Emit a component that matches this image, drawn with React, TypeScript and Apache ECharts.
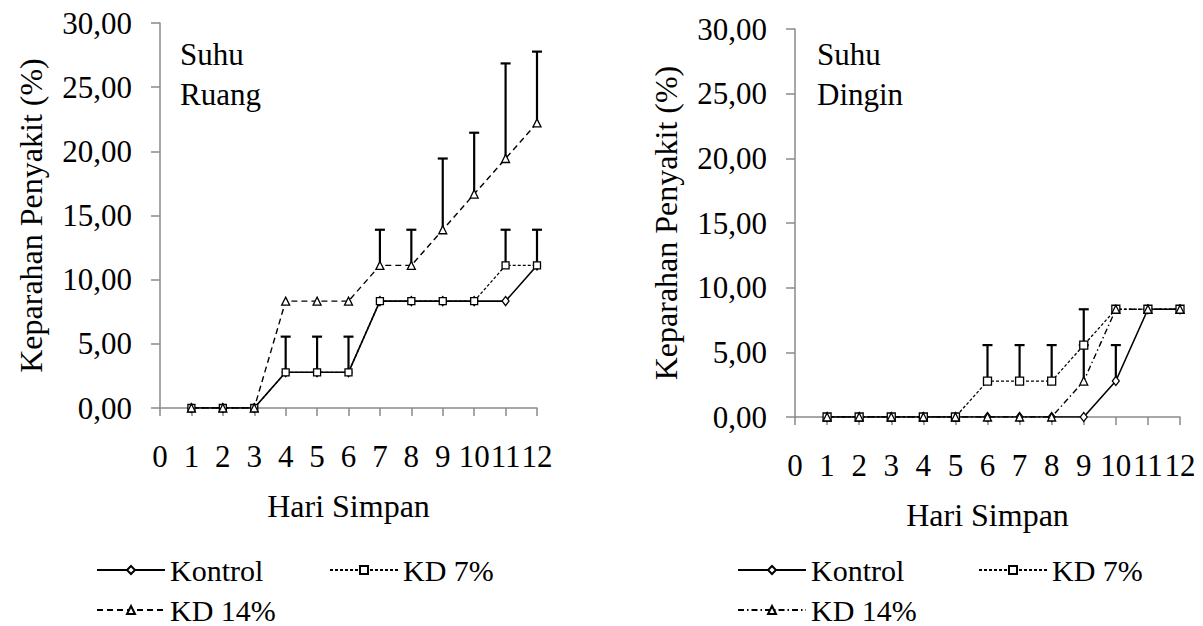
import React, { useEffect, useRef } from "react";
import * as echarts from "echarts";

const FONT = "'Liberation Serif', 'Times New Roman', 'DejaVu Serif', serif";

const days = [1, 2, 3, 4, 5, 6, 7, 8, 9, 10, 11, 12];
const seriesNames = ["Kontrol", "KD 7%", "KD 14%"];

// Suhu Ruang
const ruangKontrol = [0, 0, 0, 2.78, 2.78, 2.78, 8.33, 8.33, 8.33, 8.33, 8.33, 11.11];
const ruangKD7 = [0, 0, 0, 2.78, 2.78, 2.78, 8.33, 8.33, 8.33, 8.33, 11.11, 11.11];
const ruangKD14 = [0, 0, 0, 8.33, 8.33, 8.33, 11.11, 11.11, 13.89, 16.67, 19.44, 22.22];
// [day, value, upper]
const ruangErr = [
  [4, 2.78, 5.56], [5, 2.78, 5.56], [6, 2.78, 5.56],
  [7, 11.11, 13.89], [8, 11.11, 13.89], [9, 13.89, 19.44],
  [10, 16.67, 21.45], [11, 19.44, 26.85], [11, 11.11, 13.89],
  [12, 22.22, 27.77], [12, 11.11, 13.89],
];

// Suhu Dingin
const dinginKontrol = [0, 0, 0, 0, 0, 0, 0, 0, 0, 2.78, 8.33, 8.33];
const dinginKD7 = [0, 0, 0, 0, 0, 2.78, 2.78, 2.78, 5.56, 8.33, 8.33, 8.33];
const dinginKD14 = [0, 0, 0, 0, 0, 0, 0, 0, 2.78, 8.33, 8.33, 8.33];
const dinginErr = [
  [6, 2.78, 5.56], [7, 2.78, 5.56], [8, 2.78, 5.56],
  [9, 5.56, 8.33], [9, 2.78, 5.56], [10, 2.78, 5.56],
];

const xTicks = { min: 0, max: 12, interval: 1 };
const yTicks = { min: 0, max: 30, interval: 5 };

const pair = (vals: number[]) => days.map((d, i) => [d, vals[i]]);

const AXIS_COLOR = "#8a8a8a";

function makeAxes(gi: number) {
  const x = {
    gridIndex: gi,
    type: "value",
    ...xTicks,
    name: "Hari Simpan",
    nameLocation: "middle",
    nameGap: 82,
    nameTextStyle: { fontSize: 32, color: "#000", fontFamily: FONT },
    axisLine: { show: true, onZero: false, lineStyle: { color: AXIS_COLOR, width: 1.5 } },
    axisTick: { show: true, length: 8, lineStyle: { color: AXIS_COLOR, width: 1.5 } },
    axisLabel: { fontSize: 31, color: "#000", fontFamily: FONT, margin: 33 },
    splitLine: { show: false },
  };
  const y = {
    gridIndex: gi,
    type: "value",
    ...yTicks,
    name: "Keparahan Penyakit (%)",
    nameLocation: "middle",
    nameGap: 113,
    nameTextStyle: { fontSize: 32, color: "#000", fontFamily: FONT },
    axisLine: { show: true, lineStyle: { color: AXIS_COLOR, width: 1.5 } },
    axisTick: { show: true, length: 9, lineStyle: { color: AXIS_COLOR, width: 1.5 } },
    axisLabel: {
      fontSize: 31,
      color: "#000",
      fontFamily: FONT,
      margin: 28,
      formatter: (v: number) => v.toFixed(2).replace(".", ","),
    },
    splitLine: { show: false },
  };
  return { x, y };
}

const markerStyle = { color: "#fff", borderColor: "#000", borderWidth: 1.3 };

function lineSeries(name: string, gi: number, vals: number[], symbol: string, size: any, dash: any, width: number) {
  return {
    name,
    type: "line",
    xAxisIndex: gi,
    yAxisIndex: gi,
    data: pair(vals),
    symbol,
    symbolSize: size,
    showSymbol: true,
    itemStyle: markerStyle,
    lineStyle: { color: "#000", width, type: dash },
    z: 3,
  };
}

function errSeries(gi: number, data: number[][]) {
  return {
    type: "custom",
    xAxisIndex: gi,
    yAxisIndex: gi,
    data,
    z: 2,
    silent: true,
    renderItem: (params: any, api: any) => {
      const x = api.value(0);
      const y = api.value(1);
      const hi = api.value(2);
      const p0 = api.coord([x, y]);
      const p1 = api.coord([x, hi]);
      return {
        type: "group",
        children: [
          { type: "line", shape: { x1: p0[0], y1: p0[1], x2: p1[0], y2: p1[1] }, style: { stroke: "#000", lineWidth: 2.2 } },
          { type: "line", shape: { x1: p1[0] - 5, y1: p1[1], x2: p1[0] + 5, y2: p1[1] }, style: { stroke: "#000", lineWidth: 2.2 } },
        ],
      };
    },
  };
}

const label = (n: string) => n.split("|")[0];

function legendItem(name: string, left: number, top: number) {
  return {
    data: [name],
    left,
    top,
    orient: "horizontal",
    padding: 0,
    itemGap: 0,
    itemWidth: 68,
    itemHeight: 10,
    selectedMode: false,
    formatter: label,
    textStyle: { fontSize: 30, lineHeight: 30, color: "#000", fontFamily: FONT },
  };
}

export default function App() {
  const ref = useRef<HTMLDivElement>(null);
  useEffect(() => {
    if (!ref.current) return;
    const chart = echarts.init(ref.current, undefined, { renderer: "svg" });
    const a0 = makeAxes(0);
    const a1 = makeAxes(1);
    const nR = seriesNames.map((n) => n + "|R");
    const nD = seriesNames.map((n) => n + "|D");
    chart.setOption({
      animation: false,
      backgroundColor: "#fff",
      textStyle: { fontFamily: FONT },
      grid: [
        { left: 160, top: 23, width: 377, height: 385 },
        { left: 795, top: 29, width: 385, height: 388 },
      ],
      xAxis: [a0.x, a1.x],
      yAxis: [a0.y, a1.y],
      legend: [
        legendItem(nR[0], 96, 555),
        legendItem(nR[1], 329, 555),
        legendItem(nR[2], 96, 595),
        legendItem(nD[0], 737, 555),
        legendItem(nD[1], 978, 555),
        legendItem(nD[2], 737, 595),
      ],
      graphic: [
        { type: "text", left: 180, top: 34, style: { text: "Suhu\nRuang", fontSize: 31, lineHeight: 40, fontFamily: FONT, fill: "#000" } },
        { type: "text", left: 817, top: 34, style: { text: "Suhu\nDingin", fontSize: 31, lineHeight: 40, fontFamily: FONT, fill: "#000" } },
      ],
      series: [
        errSeries(0, ruangErr),
        lineSeries(nR[0], 0, ruangKontrol, "diamond", [7, 9], "solid", 1.6),
        lineSeries(nR[1], 0, ruangKD7, "rect", 7, [3, 2], 1.3),
        lineSeries(nR[2], 0, ruangKD14, "triangle", 8, [6, 4], 1.4),
        errSeries(1, dinginErr),
        lineSeries(nD[0], 1, dinginKontrol, "diamond", [7, 9], "solid", 1.6),
        lineSeries(nD[1], 1, dinginKD7, "rect", 8, [3, 2], 1.3),
        lineSeries(nD[2], 1, dinginKD14, "triangle", 8, [6, 3, 1.5, 3], 1.4),
      ],
    });
    return () => chart.dispose();
  }, []);
  return <div ref={ref} style={{ position: "fixed", left: 0, top: 0, width: 1203, height: 626 }} />;
}
